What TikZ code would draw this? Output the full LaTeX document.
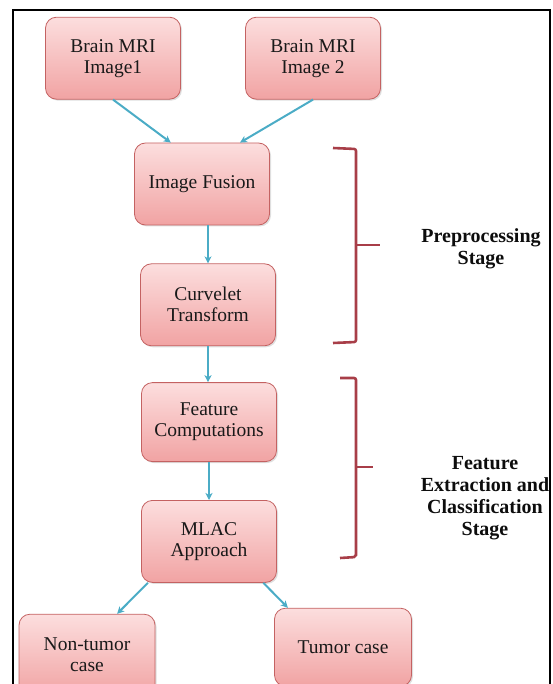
\documentclass[tikz,border=0pt]{standalone}
\usepackage{fontspec}
\setmainfont{Liberation Serif}
\usetikzlibrary{arrows.meta,positioning,calc,shadows}
\definecolor{boxtop}{RGB}{252,222,222}
\definecolor{boxbot}{RGB}{241,163,163}
\definecolor{boxline}{RGB}{196,98,98}
\definecolor{arrowc}{RGB}{75,172,198}
\definecolor{brackc}{RGB}{168,62,72}
\tikzset{
  box/.style   = {rectangle, rounded corners=11pt, draw=boxline, top color=boxtop,
                  bottom color=boxbot, line width=0.8pt, minimum height=82pt,
                  minimum width=135pt, align=center, text=black!90,
                  font=\fontsize{19.5}{21}\selectfont, inner sep=3pt,
                  drop shadow={opacity=0.25, shadow xshift=1.5pt, shadow yshift=-1.5pt}},
  ar/.style    = {-{Stealth[length=7pt, width=7pt, inset=2pt]}, draw=arrowc, line width=2pt},
  brack/.style = {draw=brackc, line width=2.6pt, rounded corners=2pt},
  stage/.style = {align=center, font=\fontsize{20}{22}\selectfont\bfseries, text=black!95}
}
\begin{document}
\begin{tikzpicture}[x=1pt, y=-1pt, node distance=37pt and 60pt]
    \useasboundingbox (0,0) rectangle (552,684);
    \draw[line width=2.2pt] (13,684) -- (13,10) -- (550,10) -- (550,684);
    \node[box] (fus) at (202,184) {Image Fusion};
    \node[box, above=43pt of fus, xshift=-89pt] (img1) {Brain MRI\\Image1};
    \node[box, above=43pt of fus, xshift=111pt] (img2) {Brain MRI\\Image 2};
    \node[box, below=38pt of fus, xshift=6pt] (cur) {Curvelet\\Transform};
    \node[box, below=36pt of cur, xshift=1pt, minimum height=79pt] (feat) {Feature\\Computations};
    \node[box, below=38pt of feat] (mlac) {MLAC\\Approach};
    \node[box, below=31pt of mlac, xshift=-122pt, minimum width=136pt] (non) {Non-tumor\\case};
    \node[box, below=25pt of mlac, xshift=134pt, minimum width=137pt, minimum height=78pt] (tum) {Tumor case};
    \draw[ar] (img1.south) -- ($(fus.north west)!0.27!(fus.north east)$);
    \draw[ar] (img2.south) -- ($(fus.north west)!0.78!(fus.north east)$);
    \draw[ar] (cur.north |- fus.south) -- (cur.north);
    \draw[ar] (cur.south) -- (cur.south |- feat.north);
    \draw[ar] (feat.south) -- (mlac.north);
    \draw[ar] ($(mlac.south west)!0.05!(mlac.south east)$) -- ($(non.north west)!0.72!(non.north east)$);
    \draw[ar] ($(mlac.south west)!0.9!(mlac.south east)$) -- ($(tum.north west)!0.1!(tum.north east)$);
    \draw[brack] (333,148) -- (356,149) -- (356,342) -- (333,343);
    \draw[brack] (356,245) -- (380,245);
    \draw[brack] (340,378) -- (356,378) -- (356,557) -- (340,558);
    \draw[brack] (356,467) -- (373,467);
    \node[stage] (pre) at (481,249) {Preprocessing\\Stage};
    \node[stage] (fec) at (485,498) {Feature\\Extraction and\\Classification\\Stage};
\end{tikzpicture}
\end{document}
